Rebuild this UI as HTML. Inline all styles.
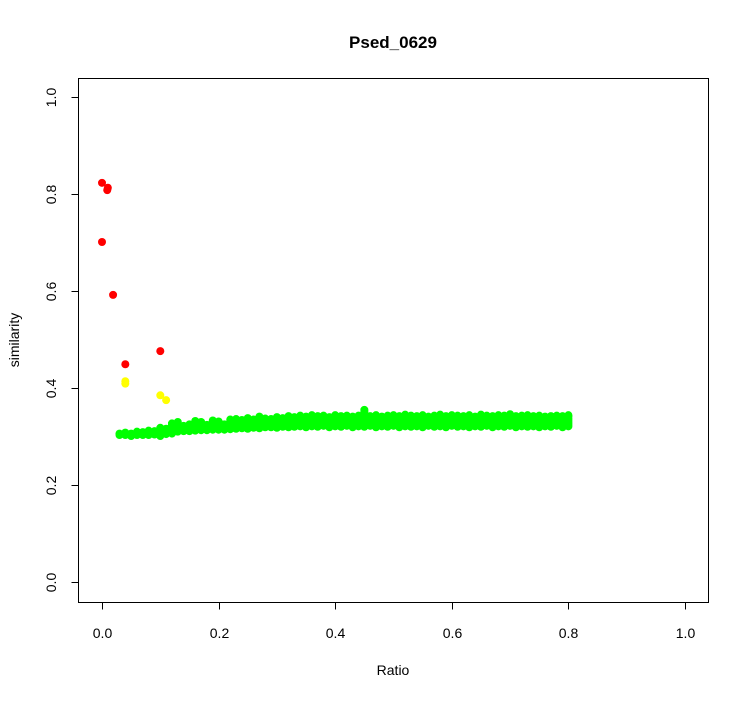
<!DOCTYPE html>
<html><head><meta charset="utf-8"><style>
body{margin:0;background:#fff}
svg text{font-family:"Liberation Sans",Arial,sans-serif;fill:#000}
</style></head><body>
<svg id="chart" width="749" height="700" xmlns="http://www.w3.org/2000/svg">
<rect width="749" height="700" fill="#fff"/>
<text x="393" y="48" text-anchor="middle" font-size="17" font-weight="bold">Psed_0629</text>
<rect x="78.5" y="78.5" width="630" height="524" fill="none" stroke="#000"/>
<g id="axes"></g>
<g id="points"></g>
<text x="393" y="675" text-anchor="middle" font-size="14">Ratio</text>
<text transform="translate(19,340) rotate(-90)" text-anchor="middle" font-size="14">similarity</text>
</svg>
<script>
const xTicks=[0,0.2,0.4,0.6,0.8,1.0];
const xTickLabels=["0.0","0.2","0.4","0.6","0.8","1.0"];
const yTicks=[0,0.2,0.4,0.6,0.8,1.0];
const yTickLabels=["0.0","0.2","0.4","0.6","0.8","1.0"];
const redX=[0,0.009,0.01,0,0.019,0.04,0.1];
const redY=[0.823,0.808,0.813,0.701,0.592,0.449,0.476];
const yellowX=[0.04,0.04,0.1,0.11];
const yellowY=[0.414,0.409,0.385,0.375];
const greenX=[];for(let i=3;i<=80;i++)greenX.push(i/100);
const greenHi=[.306,.308,.306,.310,.309,.312,.311,.318,.316,.327,
.330,.322,.325,.332,.330,.324,.333,.331,.325,.335,
.336,.334,.338,.335,.341,.337,.336,.340,.338,.342,
.340,.343,.341,.344,.342,.343,.340,.344,.342,.343,.341,.343,.355,.342,.344,.341,.343,.344,.342,.345,
.343,.342,.344,.341,.343,.345,.342,.344,.343,.342,.344,.341,.345,.343,.342,.344,.343,.346,.342,.343,
.344,.342,.343,.341,.342,.343,.342,.344];
const greenLo=[.303,.303,.301,.303,.303,.303,.304,.301,.305,.306,
.310,.311,.311,.312,.313,.313,.314,.314,.314,.315,
.316,.317,.316,.318,.317,.319,.319,.318,.320,.319,
.320,.321,.319,.321,.320,.322,.319,.321,.320,.322,.319,.321,.320,.322,.319,.321,.320,.322,.319,.321,
.320,.321,.319,.322,.320,.321,.319,.322,.320,.321,.319,.321,.320,.322,.319,.321,.320,.322,.319,.321,
.320,.321,.319,.321,.320,.322,.319,.321];
const sx=v=>102+v*583, sy=v=>582-v*485;
const NS="http://www.w3.org/2000/svg";
const ax=document.getElementById('axes'), pts=document.getElementById('points');
function mk(t,a,p){const e=document.createElementNS(NS,t);for(const k in a)e.setAttribute(k,a[k]);p.appendChild(e);return e;}
mk('line',{x1:sx(0),x2:sx(1),y1:602.5,y2:602.5,stroke:'#000'},ax);
xTicks.forEach((v,i)=>{const x=Math.round(sx(v))+0.5;
 const l=mk('line',{x1:x,x2:x,y1:602.5,y2:609.5,stroke:'#000'},ax);
 
 
 const t=mk('text',{x:x,y:638,'text-anchor':'middle','font-size':14},ax);t.textContent=xTickLabels[i];
 
 });
mk('line',{x1:78.5,x2:78.5,y1:sy(0),y2:sy(1),stroke:'#000'},ax);
yTicks.forEach((v,i)=>{const y=Math.round(sy(v))+0.5;
 const l=mk('line',{x1:71.5,x2:78.5,y1:y,y2:y,stroke:'#000'},ax);
 
 
 const t=mk('text',{transform:`translate(56,${y}) rotate(-90)`,'text-anchor':'middle','font-size':14},ax);t.textContent=yTickLabels[i];
 
 });
function dot(x,y,c,name){const e=mk('circle',{cx:sx(x),cy:sy(y),r:4,fill:c},pts);
 
 }
greenX.forEach((x,i)=>{const lo=greenLo[i],hi=greenHi[i];
 for(let v=lo;v<hi;v+=0.004)dot(x,v,'#00ff00','green-point');
 dot(x,hi,'#00ff00','green-point');});
yellowX.forEach((x,i)=>dot(x,yellowY[i],'#ffff00','yellow-point'));
redX.forEach((x,i)=>dot(x,redY[i],'#ff0000','red-point'));
</script>
</body></html>
